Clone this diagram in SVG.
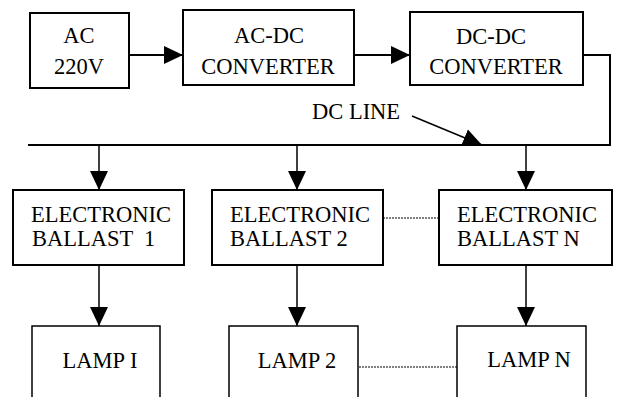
<svg xmlns="http://www.w3.org/2000/svg" width="619" height="397" viewBox="0 0 619 397" font-family="'Liberation Serif', 'Times New Roman', serif" font-size="22.5">
<style>
.box{fill:#fff;stroke:#000;stroke-width:2}
.lamp{fill:#fff;stroke:#000;stroke-width:1.5}
.t{fill:#000}
.c{text-anchor:middle}
.ln{fill:none;stroke:#000;stroke-width:2}
.thin{fill:none;stroke:#000;stroke-width:1.5}
.dot{fill:none;stroke:#000;stroke-width:1;stroke-dasharray:2 1}
</style>
<defs>
<marker id="ah" markerUnits="userSpaceOnUse" markerWidth="20" markerHeight="20" refX="19" refY="10" orient="auto" viewBox="0 0 20 20">
<path d="M0,1 L19,10 L0,19 Z" fill="#000"/>
</marker>
</defs>
<rect width="619" height="397" fill="#fff"/>
<g id="connectors">
<line class="ln" x1="129" y1="55" x2="183" y2="55" marker-end="url(#ah)"/>
<line class="ln" x1="354" y1="55" x2="410" y2="55" marker-end="url(#ah)"/>
<polyline class="ln" points="583,55 610,55 610,145 28,145"/>
<line class="thin" x1="412" y1="116" x2="482" y2="145" marker-end="url(#ah)"/>
<line class="thin" x1="99" y1="145" x2="99" y2="190" marker-end="url(#ah)"/>
<line class="thin" x1="297" y1="145" x2="297" y2="190" marker-end="url(#ah)"/>
<line class="thin" x1="526" y1="145" x2="526" y2="190" marker-end="url(#ah)"/>
<line class="thin" x1="99" y1="265" x2="99" y2="326" marker-end="url(#ah)"/>
<line class="thin" x1="297" y1="265" x2="297" y2="326" marker-end="url(#ah)"/>
<line class="thin" x1="526" y1="265" x2="526" y2="326" marker-end="url(#ah)"/>
<line class="dot" x1="383" y1="218" x2="439" y2="218"/>
<line class="dot" x1="353" y1="367" x2="457" y2="367"/>
</g>
<g id="ac">
<rect class="box" x="30" y="13" width="99" height="75"/>
<text class="t c" x="79" y="43">AC</text>
<text class="t c" x="79" y="74">220V</text>
</g>
<g id="acdc">
<rect class="box" x="183" y="10" width="171" height="75"/>
<text class="t c" x="269" y="43">AC-DC</text>
<text class="t c" x="268" y="74">CONVERTER</text>
</g>
<g id="dcdc">
<rect class="box" x="410" y="12" width="173" height="73"/>
<text class="t c" x="491" y="44">DC-DC</text>
<text class="t c" x="496" y="74">CONVERTER</text>
</g>
<g id="dcline">
<text class="t" x="312" y="119">DC LINE</text>
</g>
<g id="ballast1">
<rect class="box" x="13" y="190" width="171" height="75"/>
<text class="t c" x="101" y="222">ELECTRONIC</text>
<text class="t" x="32" y="246" xml:space="preserve">BALLAST  1</text>
</g>
<g id="ballast2">
<rect class="box" x="212" y="190" width="171" height="75"/>
<text class="t c" x="300" y="222">ELECTRONIC</text>
<text class="t" x="230" y="246">BALLAST 2</text>
</g>
<g id="ballastn">
<rect class="box" x="439" y="190" width="173" height="75"/>
<text class="t c" x="527" y="222">ELECTRONIC</text>
<text class="t" x="457" y="246">BALLAST N</text>
</g>
<g id="lamp1">
<polyline class="lamp" points="32,400 32,326 160,326 160,400"/>
<text class="t c" x="100" y="368">LAMP I</text>
</g>
<g id="lamp2">
<polyline class="lamp" points="229,400 229,326 358,326 358,400"/>
<text class="t c" x="297" y="368">LAMP 2</text>
</g>
<g id="lampn">
<polyline class="lamp" points="457,400 457,326 586,326 586,400"/>
<text class="t c" x="529" y="367">LAMP N</text>
</g>
</svg>
